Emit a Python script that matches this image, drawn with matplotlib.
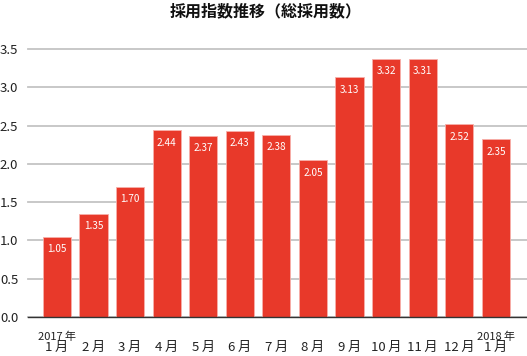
import matplotlib
matplotlib.use("Agg")
import matplotlib.pyplot as plt

plt.rcParams['font.family'] = ['Noto Sans CJK JP', 'DejaVu Sans']

months = ["1\u2009月", "2\u2009月", "3\u2009月", "4\u2009月", "5\u2009月", "6\u2009月", "7\u2009月",
          "8\u2009月", "9\u2009月", "10\u2009月", "11\u2009月", "12\u2009月", "1\u2009月"]
year_labels = {0: "2017\u2009年", 12: "2018\u2009年"}
label_values = [1.05, 1.35, 1.70, 2.44, 2.37, 2.43, 2.38, 2.05, 3.13, 3.32, 3.31, 2.52, 2.35]
bar_heights = [1.05, 1.35, 1.70, 2.44, 2.37, 2.43, 2.38, 2.05, 3.13, 3.37, 3.37, 2.52, 2.32]
yticks = [0.0, 0.5, 1.0, 1.5, 2.0, 2.5, 3.0, 3.5]
title = "採用指数推移（総採用数）"

W, H = 527, 356
fig = plt.figure(figsize=(W / 100, H / 100), dpi=100)
ax = fig.add_axes([28 / W, (H - 317) / H, 1 - 28 / W, (317 - 49) / H])

x = list(range(len(months)))
bars = ax.bar(x, bar_heights, width=0.77, color="#e8392a", edgecolor="#f7b0aa",
              linewidth=0.6, zorder=3)

for xi, h, v in zip(x, bar_heights, label_values):
    ax.annotate(f"{v:.2f}", (xi, h), xytext=(0, -9), textcoords="offset points",
                ha="center", va="center", color="white", fontsize=7.2, zorder=4)

ax.set_xlim(-0.79, 12.85)
ax.set_ylim(0, 3.5)
ax.set_yticks(yticks)
ax.set_yticklabels([f"{t:.1f}" for t in yticks], fontsize=9.5, color="#222222")
ax.tick_params(axis="y", length=0, pad=7)
ax.set_xticks(x)
ax.set_xticklabels(months, fontsize=9.5, color="#222222")
ax.tick_params(axis="x", length=0, pad=17)

for i, yl in year_labels.items():
    ax.annotate(yl, (i, 0), xytext=(0, -14), textcoords="offset points",
                ha="center", va="center", fontsize=8, color="#222222")

ax.yaxis.grid(True, color="#c4c4c4", linewidth=1.3, zorder=0)
ax.set_axisbelow(True)
for s in ["top", "right", "left"]:
    ax.spines[s].set_visible(False)
ax.spines["bottom"].set_color("#333333")
ax.spines["bottom"].set_linewidth(1.0)
ax.spines["bottom"].set_zorder(5)
for gl in ax.yaxis.get_gridlines():
    gl.set_clip_on(False)

fig.text(266 / W, 1 - 11 / H, title, ha="center", va="center", fontsize=11.5,
         fontweight="bold", color="#111111")

fig.savefig("out.png", dpi=100)
